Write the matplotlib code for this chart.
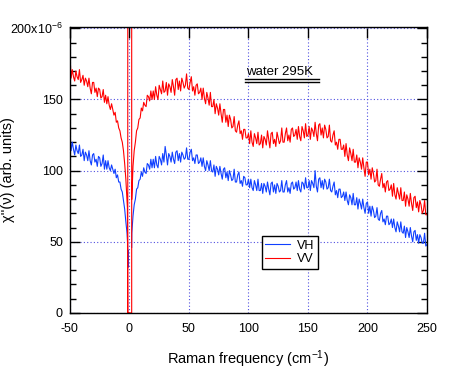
import numpy as np
import matplotlib
matplotlib.use("Agg")
import matplotlib.pyplot as plt
from matplotlib.ticker import MultipleLocator

# Raman susceptibility of water at 295K, values in units of 1e-6
x_left = np.arange(-50, -1)      # -50 .. -2
x_right = np.arange(2, 251)      # 2 .. 250

vv_left = [182,165,171,166,163,170,166,164,171,162,
           164,167,160,165,163,159,165,158,154,162,
           162,155,158,152,158,157,151,152,157,148,
           153,147,152,146,143,147,143,139,141,134,
           135,130,128,123,120,114,105,94,79]
vv_right = [80,103,114,120,128,130,136,137,
            144,142,148,146,145,153,152,149,156,150,
            156,150,159,153,150,160,157,154,163,155,
            156,162,153,161,159,155,164,159,153,164,
            165,157,163,156,165,162,158,160,168,158,
            157,162,166,156,159,153,160,161,154,155,
            158,150,158,151,147,155,151,146,155,145,
            145,150,140,147,144,139,147,140,134,143,
            143,134,139,131,139,136,130,131,138,128,
            127,132,135,126,128,122,129,129,123,123,
            126,119,128,120,117,126,123,119,127,118,
            119,125,116,124,122,118,128,122,116,126,
            127,119,122,117,127,123,119,121,130,120,
            120,126,130,121,125,120,129,130,124,125,
            129,122,131,124,121,131,128,123,133,124,
            125,131,122,130,128,124,134,126,121,132,
            133,125,130,123,132,129,123,124,132,121,
            120,125,128,118,120,115,122,122,115,115,
            118,110,119,111,107,116,112,107,115,106,
            106,111,102,109,106,101,109,102,96,106,
            106,97,101,94,102,98,92,93,101,90,
            89,94,98,88,91,85,92,93,86,87,
            90,82,91,83,80,88,84,80,88,79,
            79,85,75,83,80,75,84,77,72,81,
            82,74,78,71,79,76,70,72,79,69,69]
# laser line region (off scale)
vv_mid_x = [-1.7, -1.4, -1.4, 1.9, 1.9, -1.4, np.nan]
vv_mid = [74, 0, 400, 400, 0, 0, np.nan]

vh_left = [128,114,120,115,111,118,114,112,118,110,
           111,115,107,113,111,107,114,107,104,111,
           112,106,108,103,110,109,103,105,111,101,
           107,101,107,102,100,104,101,98,101,95,
           97,92,92,87,85,79,73,64,56]
vh_right = [56,68,76,80,87,88,93,94,
            99,96,102,99,98,105,104,101,108,102,
            108,102,110,104,102,110,108,104,112,106,
            117,111,104,112,110,106,113,108,105,113,
            114,107,112,106,113,111,108,109,116,108,
            108,113,115,107,109,105,111,111,105,106,
            109,103,109,103,100,107,104,100,107,100,
            99,104,96,103,101,97,103,98,94,101,
            102,95,99,93,100,97,93,94,101,92,
            92,97,99,91,93,89,96,95,90,90,
            94,88,94,88,86,93,90,86,94,86,
            86,91,84,91,89,85,92,87,83,91,
            92,85,90,84,91,89,85,86,93,85,
            85,90,93,85,88,84,91,92,87,88,
            92,86,93,87,85,92,91,87,95,88,
            88,93,86,93,91,88,100,89,85,94,
            95,88,93,87,94,92,87,88,94,86,
            85,89,92,83,86,81,87,87,81,82,
            85,79,85,79,76,83,81,76,84,76,
            76,81,73,80,77,73,80,74,70,77,
            78,70,75,68,75,72,67,68,74,66,
            65,70,72,64,66,62,68,68,62,63,
            66,60,66,60,57,64,61,57,64,57,
            56,61,53,60,57,53,60,54,50,57,
            58,51,55,49,55,53,49,49,56,47,48]
vh_mid_x = [-1.6, -1.2, -1.0, np.nan, 1.9]
vh_mid = [50, 32, 44, np.nan, 46]

y_ticks = [0, 50, 100, 150, 200]
y_ticklabels = ["0", "50", "100", "150", r"200x10$^{-6}$"]
x_ticks = [-50, 0, 50, 100, 150, 200, 250]

plt.rcParams["font.family"] = ["Liberation Sans", "DejaVu Sans"]
plt.rcParams["mathtext.default"] = "regular"
plt.rcParams["axes.unicode_minus"] = False

vh_x = np.concatenate([x_left, vh_mid_x, x_right])
vh_y = np.concatenate([vh_left, vh_mid, vh_right])
vv_x = np.concatenate([x_left, vv_mid_x, x_right])
vv_y = np.concatenate([vv_left, vv_mid, vv_right])

fig = plt.figure(figsize=(4.54, 3.69), dpi=100)
ax = fig.add_axes([0.154, 0.152, 0.7865, 0.775])

ax.plot(vh_x, vh_y, color="#1040ff", lw=0.8, label="VH")
ax.plot(vv_x, vv_y, color="#ff0000", lw=0.8, label="VV")

ax.set_xlim(-50, 250)
ax.set_ylim(0, 201)
ax.set_xticks(x_ticks)
ax.set_yticks(y_ticks)
ax.set_yticklabels(y_ticklabels)
ax.yaxis.set_minor_locator(MultipleLocator(10))
ax.grid(True, which="major", color="#5050e0", linestyle=(0, (1, 2)), linewidth=0.8)

ax.tick_params(axis="both", which="both", direction="in", labelsize=9)
ax.tick_params(axis="x", which="major", top=True, bottom=False, length=8, width=1, pad=7)
ax.tick_params(axis="y", which="major", left=True, right=True, length=7, width=1, pad=5)
ax.tick_params(axis="y", which="minor", left=True, right=True, length=4, width=1)
for s in ax.spines.values():
    s.set_linewidth(1.0)

ax.set_xlabel("Raman frequency (cm$^{-1}$)", fontsize=10.5, labelpad=10)
ax.set_ylabel("χ''(ν) (arb. units)", fontsize=10.5)
ax.yaxis.set_label_coords(-0.155, 0.5)

ax.text(126, 167.5, "water 295K", fontsize=9.5, ha="center", va="baseline")
ax.plot([97, 159], [164.3, 164.3], color="black", lw=1)
ax.plot([97, 159], [162.6, 162.6], color="black", lw=1)

leg = ax.legend(loc="upper left", bbox_to_anchor=(0.537, 0.269), borderaxespad=0,
                fancybox=False, edgecolor="black", framealpha=1, fontsize=9,
                handlelength=2.0, handletextpad=0.5, borderpad=0.3, labelspacing=0.1)
leg.get_frame().set_linewidth(1.0)

fig.savefig("out.png", dpi=100)
